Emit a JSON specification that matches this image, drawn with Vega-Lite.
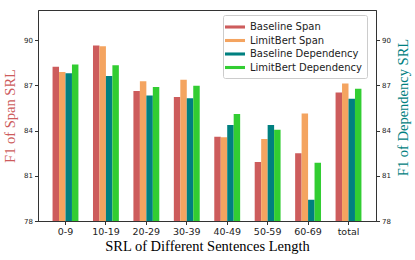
{
  "$schema": "https://vega.github.io/schema/vega-lite/v6.json",
  "width": 338,
  "height": 211,
  "autosize": {"type": "none"},
  "padding": {"left": 38, "top": 10, "right": 39, "bottom": 39},
  "background": "white",
  "config": {
    "view": {"stroke": "#333", "strokeWidth": 1},
    "axis": {"grid": false, "domainColor": "#333", "tickColor": "#333", "labelFont": "DejaVu Sans", "labelColor": "#222", "titleFont": "Liberation Serif", "titleFontWeight": "normal", "titleFontSize": 14.5, "tickSize": 3.5}
  },
  "data": {"values": [
    {"group": "0-9", "series": "Baseline Span", "value": 88.23},
    {"group": "0-9", "series": "LimitBert Span", "value": 87.88},
    {"group": "0-9", "series": "Baseline Dependency", "value": 87.81},
    {"group": "0-9", "series": "LimitBert Dependency", "value": 88.39},
    {"group": "10-19", "series": "Baseline Span", "value": 89.65},
    {"group": "10-19", "series": "LimitBert Span", "value": 89.6},
    {"group": "10-19", "series": "Baseline Dependency", "value": 87.62},
    {"group": "10-19", "series": "LimitBert Dependency", "value": 88.34},
    {"group": "20-29", "series": "Baseline Span", "value": 86.62},
    {"group": "20-29", "series": "LimitBert Span", "value": 87.28},
    {"group": "20-29", "series": "Baseline Dependency", "value": 86.33},
    {"group": "20-29", "series": "LimitBert Dependency", "value": 86.89},
    {"group": "30-39", "series": "Baseline Span", "value": 86.22},
    {"group": "30-39", "series": "LimitBert Span", "value": 87.37},
    {"group": "30-39", "series": "Baseline Dependency", "value": 86.14},
    {"group": "30-39", "series": "LimitBert Dependency", "value": 86.97},
    {"group": "40-49", "series": "Baseline Span", "value": 83.59},
    {"group": "40-49", "series": "LimitBert Span", "value": 83.55},
    {"group": "40-49", "series": "Baseline Dependency", "value": 84.37},
    {"group": "40-49", "series": "LimitBert Dependency", "value": 85.1},
    {"group": "50-59", "series": "Baseline Span", "value": 81.91},
    {"group": "50-59", "series": "LimitBert Span", "value": 83.44},
    {"group": "50-59", "series": "Baseline Dependency", "value": 84.37},
    {"group": "50-59", "series": "LimitBert Dependency", "value": 84.06},
    {"group": "60-69", "series": "Baseline Span", "value": 82.5},
    {"group": "60-69", "series": "LimitBert Span", "value": 85.14},
    {"group": "60-69", "series": "Baseline Dependency", "value": 79.41},
    {"group": "60-69", "series": "LimitBert Dependency", "value": 81.87},
    {"group": "total", "series": "Baseline Span", "value": 86.53},
    {"group": "total", "series": "LimitBert Span", "value": 87.13},
    {"group": "total", "series": "Baseline Dependency", "value": 86.11},
    {"group": "total", "series": "LimitBert Dependency", "value": 86.77}
  ]},
  "encoding": {
    "x": {"field": "group", "type": "nominal", "sort": null,
      "scale": {"paddingInner": 0.36, "paddingOuter": 0.36},
      "axis": {"title": "SRL of Different Sentences Length", "labelAngle": 0, "labelFontSize": 9.5, "titleColor": "#000", "titlePadding": 3}},
    "xOffset": {"field": "series", "type": "nominal", "sort": ["Baseline Span", "LimitBert Span", "Baseline Dependency", "LimitBert Dependency"], "scale": {"paddingInner": 0, "paddingOuter": 0}}
  },
  "layer": [
    {
      "mark": {"type": "bar", "clip": true},
      "encoding": {
        "y": {"field": "value", "type": "quantitative",
          "scale": {"domain": [78, 92], "nice": false, "zero": false},
          "axis": {"title": "F1 of Span SRL", "titleColor": "#CD5C5C", "values": [78, 81, 84, 87, 90], "labelFontSize": 7, "titlePadding": 6}},
        "color": {"field": "series", "type": "nominal",
          "sort": ["Baseline Span", "LimitBert Span", "Baseline Dependency", "LimitBert Dependency"],
          "scale": {"domain": ["Baseline Span", "LimitBert Span", "Baseline Dependency", "LimitBert Dependency"], "range": ["#CD5C5C", "#F4A460", "#008080", "#32CD32"]},
          "legend": {"title": null, "orient": "none", "legendX": 185, "legendY": 5, "direction": "vertical",
            "labelFont": "DejaVu Sans", "labelFontSize": 10, "labelColor": "#222",
            "symbolType": "M-1.43,-0.22H1.43V0.22H-1.43Z", "symbolSize": 196, "symbolStrokeWidth": 0, "symbolOpacity": 1,
            "labelOffset": 8, "rowPadding": 1.5, "padding": 5,
            "strokeColor": "#ccc", "fillColor": "white", "cornerRadius": 2}}
      }
    },
    {
      "mark": {"type": "bar", "opacity": 0},
      "encoding": {
        "y": {"field": "value", "type": "quantitative",
          "scale": {"domain": [78, 92], "nice": false, "zero": false},
          "axis": {"orient": "right", "title": "F1 of Dependency SRL", "titleColor": "#008080", "titleAngle": -90, "titleBaseline": "top", "titleY": 97, "values": [78, 81, 84, 87, 90], "labelFontSize": 7, "titlePadding": 6}}
      }
    }
  ],
  "resolve": {"scale": {"y": "independent"}}
}
